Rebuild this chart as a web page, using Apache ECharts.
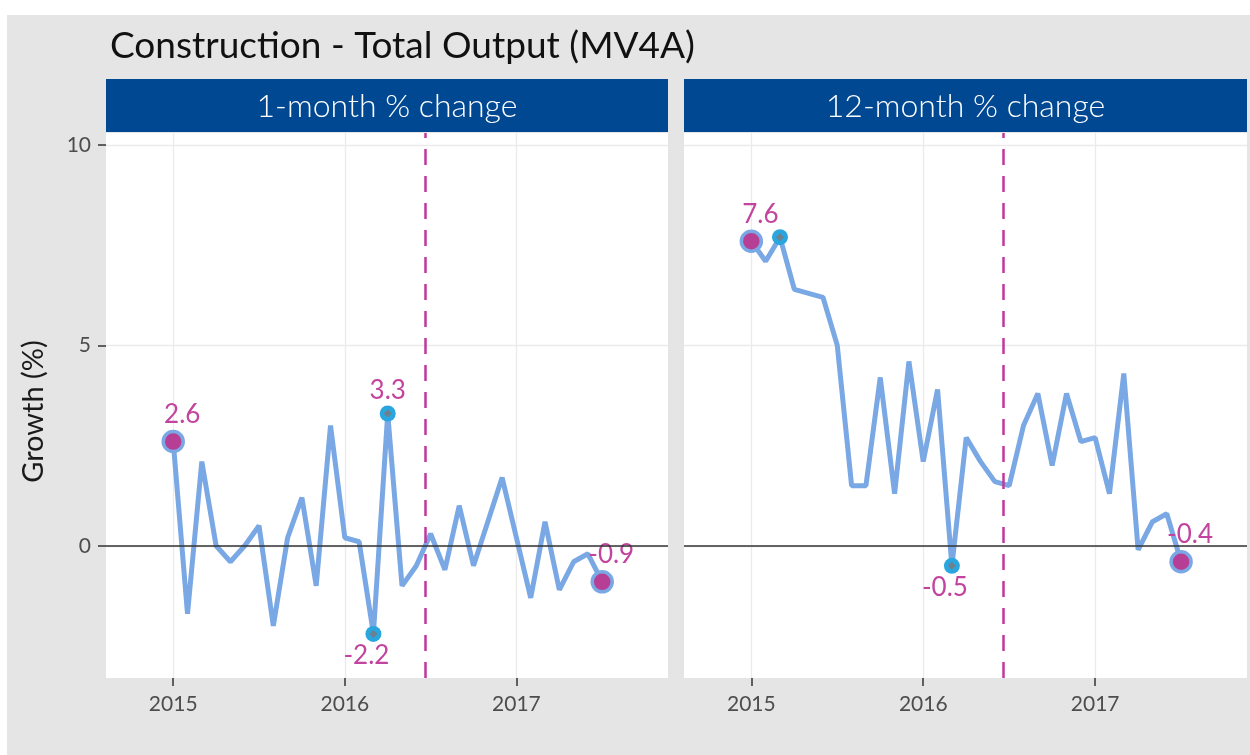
<!DOCTYPE html>
<html>
<head>
<meta charset="utf-8">
<script src="https://cdn.jsdelivr.net/npm/echarts@6/dist/echarts.min.js"></script>
<style>
html,body{margin:0;padding:0;background:#ffffff;}
#chart{width:1250px;height:755px;}
</style>
</head>
<body>
<div id="chart"></div>
<script>
// ---- data ----
const chartTitle = 'Construction - Total Output (MV4A)';
const panelTitles = ['1-month % change', '12-month % change'];
const monthLabels = ['2015-01','2015-02','2015-03','2015-04','2015-05','2015-06','2015-07','2015-08','2015-09','2015-10','2015-11','2015-12',
  '2016-01','2016-02','2016-03','2016-04','2016-05','2016-06','2016-07','2016-08','2016-09','2016-10','2016-11','2016-12',
  '2017-01','2017-02','2017-03','2017-04','2017-05','2017-06','2017-07'];
const oneMonth = [2.6, -1.7, 2.1, 0.0, -0.4, 0.0, 0.5, -2.0, 0.2, 1.2, -1.0, 3.0,
  0.2, 0.1, -2.2, 3.3, -1.0, -0.5, 0.3, -0.6, 1.0, -0.5, 0.6, 1.7,
  0.2, -1.3, 0.6, -1.1, -0.4, -0.2, -0.9];
const twelveMonth = [7.6, 7.1, 7.7, 6.4, 6.3, 6.2, 5.0, 1.5, 1.5, 4.2, 1.3, 4.6,
  2.1, 3.9, -0.5, 2.7, 2.1, 1.6, 1.5, 3.0, 3.8, 2.0, 3.8, 2.6,
  2.7, 1.3, 4.3, -0.1, 0.6, 0.8, -0.4];
const yearTickLabels = ['2015', '2016', '2017'];
const yTickValues = [0, 5, 10];
const referendumMonth = 17.6; // June 2016 (EU referendum), in months since Jan 2015
const yAxisName = 'Growth (%)';

// ---- build ----
const FONT = 'Lato, "Open Sans", sans-serif';
const yearTickPos = yearTickLabels.map(y => monthLabels.indexOf(y + '-01'));
const GRID = [
  {left: 106, top: 133, width: 562, height: 545},
  {left: 684, top: 133, width: 563, height: 545}
];
const LINE = '#7AA8E4', MAG = '#B63F95', LABEL = '#C2449E', CYAN = '#2AA6DE';

function fmt(v){ return v.toFixed(1); }

function panelSeries(values, idx, labelMax) {
  const pts = values.map((v, i) => [i, v]);
  const n = values.length;
  let iMax = 0, iMin = 0;
  values.forEach((v, i) => { if (v > values[iMax]) iMax = i; if (v < values[iMin]) iMin = i; });
  const ends = [0, n - 1].map(i => ({
    value: [i, values[i]],
    label: {show: true, position: 'top', distance: 2, offset: [9, 0], formatter: fmt(values[i])}
  }));
  const ext = [
    {value: [iMax, values[iMax]], label: {show: labelMax, position: 'top', distance: 2, offset: [0, 0], formatter: fmt(values[iMax])}},
    {value: [iMin, values[iMin]], label: {show: true, position: 'bottom', distance: 1, offset: [-7, 0], formatter: fmt(values[iMin])}}
  ];
  const lblStyle = {color: LABEL, fontSize: 26, fontFamily: FONT};
  return [
    {
      type: 'line', xAxisIndex: idx, yAxisIndex: idx, data: pts, showSymbol: false, silent: true,
      lineStyle: {color: LINE, width: 5}, z: 2,
      markLine: {
        silent: true, symbol: 'none', label: {show: false}, animation: false,
        data: [
          {yAxis: 0, lineStyle: {color: '#333333', width: 1.5, type: 'solid'}},
          {xAxis: referendumMonth, lineStyle: {color: '#C0399A', width: 2.5, type: [16, 11]}}
        ]
      }
    },
    {
      type: 'scatter', xAxisIndex: idx, yAxisIndex: idx, data: ends, symbol: 'circle', symbolSize: 20, z: 4,
      itemStyle: {color: MAG, borderColor: LINE, borderWidth: 3.5, opacity: 1},
      label: lblStyle
    },
    {
      type: 'scatter', xAxisIndex: idx, yAxisIndex: idx, data: ext, symbol: 'circle', symbolSize: 16, z: 4,
      itemStyle: {color: CYAN, opacity: 1},
      label: lblStyle
    },
    {
      type: 'scatter', xAxisIndex: idx, yAxisIndex: idx, data: ext.map(d => d.value), symbol: 'diamond', symbolSize: 8, z: 5,
      itemStyle: {color: '#6E7F8E', opacity: 1}, label: {show: false}
    }
  ];
}

function xAxis(idx) {
  return {
    type: 'value', gridIndex: idx, min: -4.7, max: 34.6,
    axisLine: {show: false, onZero: false},
    axisTick: {show: true, customValues: yearTickPos, length: 8, lineStyle: {color: '#333333', width: 1.5}},
    axisLabel: {customValues: yearTickPos, formatter: v => yearTickLabels[yearTickPos.indexOf(v)],
      color: '#4D4D4D', fontSize: 21, fontFamily: FONT, margin: 16},
    splitLine: {show: true, lineStyle: {color: '#EBEBEB', width: 1.3}}
  };
}
function yAxis(idx) {
  return {
    type: 'value', gridIndex: idx, min: -3.3, max: 10.3,
    name: idx === 0 ? yAxisName : '', nameLocation: 'middle', nameGap: 58, nameRotate: 90,
    nameTextStyle: {color: '#1a1a1a', fontSize: 29, fontFamily: FONT, padding: [0, 0, 0, -12]},
    axisLine: {show: false, onZero: false},
    axisTick: {show: idx === 0, customValues: yTickValues, length: 8, lineStyle: {color: '#333333', width: 1.5}},
    axisLabel: {show: idx === 0, customValues: yTickValues, color: '#4D4D4D', fontSize: 21, fontFamily: FONT, margin: 15},
    splitLine: {show: true, lineStyle: {color: '#EBEBEB', width: 1.3}}
  };
}

const graphics = [
  {type: 'rect', shape: {x: 7, y: 15, width: 1243, height: 740}, style: {fill: '#E5E5E5'}, z: -100, silent: true}
];
GRID.forEach((g, i) => {
  graphics.push({type: 'rect', shape: {x: g.left, y: 79, width: g.width, height: 53}, style: {fill: '#004892'}, z: 1, silent: true});
  graphics.push({type: 'text', x: g.left + g.width / 2, y: 107, z: 2, silent: true,
    style: {text: panelTitles[i], fill: '#ffffff', font: '300 32px ' + FONT, align: 'center', verticalAlign: 'middle'}});
});

const chart = echarts.init(document.getElementById('chart'), null, {renderer: 'canvas'});
chart.setOption({
  animation: false,
  backgroundColor: '#ffffff',
  title: {text: chartTitle, left: 105, top: 23, textStyle: {fontSize: 37, fontWeight: 'normal', color: '#111111', fontFamily: FONT}},
  graphic: graphics,
  grid: GRID.map(g => Object.assign({show: true, backgroundColor: '#ffffff', borderWidth: 0, containLabel: false}, g)),
  xAxis: [xAxis(0), xAxis(1)],
  yAxis: [yAxis(0), yAxis(1)],
  series: panelSeries(oneMonth, 0, true).concat(panelSeries(twelveMonth, 1, false))
});
</script>
</body>
</html>
